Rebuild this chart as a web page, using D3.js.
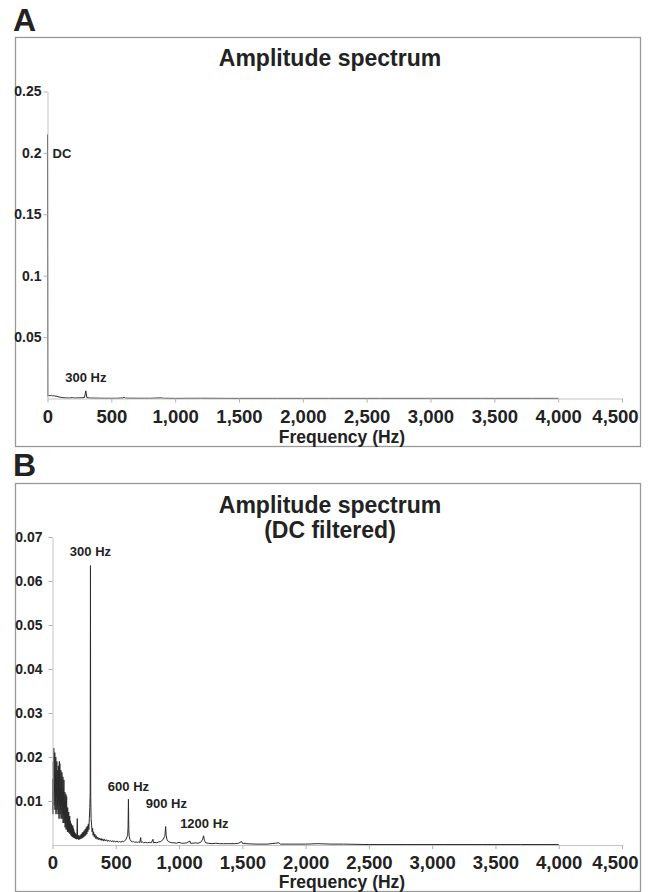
<!DOCTYPE html>
<html>
<head>
<meta charset="utf-8">
<script src="https://cdn.jsdelivr.net/npm/d3@7"></script>
<style>
  body { margin: 0; background: #fff; }
  text { font-family: "Liberation Sans", Arial, sans-serif; font-weight: bold; fill: #222; }
</style>
</head>
<body>
<div id="chart"></div>
<script>
// tick values / labels
let freqTicks = [0, 500, 1000, 1500, 2000, 2500, 3000, 3500, 4000, 4500];
let ampTicksA = [0.05, 0.1, 0.15, 0.2, 0.25];
let ampTicksB = [0.01, 0.02, 0.03, 0.04, 0.05, 0.06, 0.07];
let ampLabelsB = ["0.01", "0.02", "0.03", "0.04", "0.05", "0.06", "0.07"];

// Panel A: raw amplitude spectrum [Hz, amplitude]
let spectrumA = [
	[0, 0.215], [3, 0.0018], [8, 0.0024], [14, 0.0021], [20, 0.0028], [26, 0.0022], [32, 0.0026],
	[38, 0.0021], [44, 0.0025], [50, 0.002], [58, 0.0022], [66, 0.0017], [74, 0.0019], [82, 0.0014],
	[90, 0.0013], [100, 0.001], [115, 0.0008], [130, 0.0006], [150, 0.0005], [175, 0.0004],
	[196, 0.0008], [210, 0.0004], [240, 0.0005], [270, 0.0006], [290, 0.0009], [300, 0.0062],
	[308, 0.0008], [330, 0.0004], [380, 0.0003], [450, 0.0002], [540, 0.0002], [590, 0.0004],
	[600, 0.0012], [610, 0.0003], [700, 0.0002], [800, 0.0002], [894, 0.0005], [910, 0.0002],
	[1000, 0.0001], [1200, 0.0002], [1400, 0.0001], [1800, 0.0001], [2200, 0.0001],
	[2600, 0.0001], [3000, 0.0001], [3400, 0.0001], [3800, 0.0001], [4000, 0.0001]
];

// Panel B: DC filtered spectrum [Hz, amplitude]
let spectrumB = [
	[0, 0.008], [2, 0.015], [4, 0.007], [6, 0.019], [8, 0.011], [10, 0.022], [12, 0.009],
	[14, 0.017], [16, 0.012], [18, 0.021], [20, 0.008], [22, 0.016], [24, 0.010], [26, 0.020],
	[28, 0.007], [30, 0.015], [32, 0.011], [34, 0.019], [36, 0.008], [38, 0.017], [40, 0.009],
	[42, 0.014], [44, 0.007], [46, 0.018], [48, 0.010], [50, 0.016], [52, 0.006], [54, 0.019],
	[56, 0.009], [58, 0.0185], [60, 0.007], [62, 0.013], [64, 0.008], [66, 0.017], [68, 0.006],
	[70, 0.015], [72, 0.009], [74, 0.0165], [76, 0.006], [78, 0.012], [80, 0.007], [82, 0.0155],
	[84, 0.005], [86, 0.013], [88, 0.007], [90, 0.0148], [92, 0.005], [94, 0.011], [96, 0.006],
	[98, 0.012], [100, 0.004], [102, 0.010], [104, 0.005], [106, 0.0115], [108, 0.0035],
	[110, 0.009], [112, 0.011], [114, 0.004], [116, 0.008], [118, 0.003], [120, 0.0085],
	[122, 0.004], [124, 0.007], [126, 0.003], [128, 0.0075], [130, 0.0028], [132, 0.006],
	[134, 0.0035], [136, 0.0066], [138, 0.0025], [140, 0.0055], [142, 0.003], [144, 0.005],
	[146, 0.0022], [148, 0.0048], [150, 0.002], [152, 0.0045], [154, 0.0025], [156, 0.0042],
	[158, 0.0018], [160, 0.0044], [162, 0.002], [164, 0.0038], [166, 0.0017], [168, 0.0035],
	[170, 0.0018], [172, 0.003], [174, 0.0016], [176, 0.0028], [178, 0.0015], [180, 0.0026],
	[184, 0.0014], [188, 0.0024], [192, 0.0013], [196, 0.006], [199, 0.0014], [203, 0.0022],
	[207, 0.0012], [211, 0.0021], [215, 0.0013], [219, 0.0022], [223, 0.0014], [227, 0.0025],
	[231, 0.0015], [235, 0.0028], [239, 0.0016], [243, 0.003], [247, 0.0018], [251, 0.0033],
	[255, 0.002], [259, 0.0036], [263, 0.0022], [267, 0.004], [271, 0.0025], [275, 0.0043],
	[279, 0.003], [283, 0.0048], [287, 0.0035], [291, 0.006], [295, 0.0085], [298, 0.012],
	[300, 0.0635], [302, 0.011], [305, 0.006], [309, 0.0045], [313, 0.003], [317, 0.0038],
	[321, 0.0022], [325, 0.003], [330, 0.0018], [335, 0.0025], [340, 0.0015], [346, 0.0021],
	[352, 0.0013], [358, 0.0018], [364, 0.0012], [370, 0.0016], [377, 0.0011], [384, 0.0015],
	[391, 0.001], [398, 0.0014], [405, 0.0009], [412, 0.0013], [420, 0.0009], [428, 0.0012],
	[436, 0.0008], [444, 0.0011], [452, 0.0008], [460, 0.001], [468, 0.0007], [476, 0.001],
	[484, 0.0007], [492, 0.0009], [500, 0.0007], [510, 0.0009], [520, 0.0006], [530, 0.0009],
	[540, 0.0006], [550, 0.0009], [560, 0.0007], [570, 0.001], [580, 0.0012], [588, 0.0018],
	[594, 0.0022], [597, 0.004], [600, 0.0104], [603, 0.0035], [606, 0.002], [612, 0.0013],
	[620, 0.0009], [630, 0.0007], [640, 0.0008], [650, 0.0006], [660, 0.0007], [670, 0.0006],
	[680, 0.0007], [690, 0.0006], [697, 0.0017], [700, 0.0006], [710, 0.0007], [720, 0.0005],
	[735, 0.0006], [750, 0.0005], [765, 0.0006], [780, 0.0005], [794, 0.0013], [797, 0.0005],
	[810, 0.0006], [825, 0.0005], [840, 0.0007], [855, 0.0008], [870, 0.0011], [880, 0.0016],
	[888, 0.002], [894, 0.0042], [898, 0.0022], [905, 0.0012], [915, 0.0008], [930, 0.0006],
	[945, 0.0005], [960, 0.0005], [980, 0.0004], [1000, 0.0006], [1020, 0.0004], [1040, 0.0004],
	[1060, 0.0005], [1086, 0.0009], [1090, 0.0004], [1110, 0.0004], [1130, 0.0005],
	[1150, 0.0004], [1170, 0.0006], [1185, 0.0012], [1194, 0.0021], [1200, 0.0011],
	[1210, 0.0005], [1230, 0.0004], [1260, 0.0003], [1290, 0.0004], [1320, 0.0003],
	[1350, 0.0003], [1380, 0.0003], [1410, 0.0003], [1440, 0.0003], [1470, 0.0004],
	[1494, 0.0008], [1500, 0.0004], [1530, 0.0003], [1600, 0.0002], [1700, 0.0002],
	[1789, 0.0005], [1800, 0.0002], [1900, 0.0002], [2000, 0.0002], [2100, 0.0003],
	[2200, 0.0002], [2300, 0.0002], [2500, 0.0001], [2800, 0.0001], [3100, 0.0001],
	[3400, 0.0001], [3700, 0.0001], [4000, 0.0001]
];

// peak annotations: text, frequency, amplitude where the label sits
let notesA = [
	{text: "DC", f: 0, a: 0.196, anchor: "start"},
	{text: "300 Hz", f: 300, a: 0.0135, anchor: "middle"}
];
let notesB = [
	{text: "300 Hz", f: 300, a: 0.0657, anchor: "middle"},
	{text: "600 Hz", f: 600, a: 0.0123, anchor: "middle"},
	{text: "900 Hz", f: 900, a: 0.0084, anchor: "middle"},
	{text: "1200 Hz", f: 1200, a: 0.0039, anchor: "middle"}
];

let svg = d3.select("#chart").append("svg")
	.attr("width", 649)
	.attr("height", 892);

drawPanel(svg, {
	letter: "A", letterY: 31,
	box: {x: 15, y: 37, w: 625, h: 409},
	titles: ["Amplitude spectrum"], titleY: 66,
	rangeX: [47.5, 622], rangeY: [398.5, 91.5],
	domainY: [0, 0.25], ampTicks: ampTicksA, ampFormat: d => String(d),
	yPad: 2, xLabelY: 443,
	data: spectrumA, notes: notesA
});

drawPanel(svg, {
	letter: "B", letterY: 476,
	box: {x: 15, y: 483, w: 625, h: 408},
	titles: ["Amplitude spectrum", "(DC filtered)"], titleY: 513,
	rangeX: [52.5, 622], rangeY: [845, 537],
	domainY: [0, 0.07], ampTicks: ampTicksB, ampFormat: (d, i) => ampLabelsB[i],
	yPad: 6, xLabelY: 888,
	data: spectrumB, notes: notesB
});

function drawPanel(svg, p) {
	svg.append("text")
		.attr("x", 13)
		.attr("y", p.letterY)
		.style("font-size", "32px")
		.text(p.letter);

	svg.append("rect")
		.attr("x", p.box.x + 0.5)
		.attr("y", p.box.y + 0.5)
		.attr("width", p.box.w)
		.attr("height", p.box.h)
		.attr("fill", "none")
		.attr("stroke", "#999")
		.attr("stroke-width", 1.3);

	p.titles.forEach(function(t, i) {
		svg.append("text")
			.attr("x", 330)
			.attr("y", p.titleY + i * 25)
			.attr("text-anchor", "middle")
			.style("font-size", "23px")
			.text(t);
	});

	let x = d3.scaleLinear().domain([0, 4500]).range(p.rangeX);
	let y = d3.scaleLinear().domain(p.domainY).range(p.rangeY);

	// spectrum line
	let line = d3.line()
		.x(function(d) { return x(d[0]); })
		.y(function(d) { return y(d[1]); });

	svg.append("path")
		.datum(p.data)
		.attr("d", line)
		.attr("fill", "none")
		.attr("stroke", "#2a2a2a")
		.attr("stroke-width", 1);

	// axes on top so the DC spike sits under the y axis line
	let xAxis = svg.append("g")
		.attr("transform", "translate(0," + p.rangeY[0] + ")")
		.call(d3.axisBottom(x).tickValues(freqTicks).tickFormat(d3.format(","))
			.tickSize(4).tickSizeOuter(0).tickPadding(7));
	xAxis.selectAll("text").style("font-size", "18.5px").attr("fill", "#222");
	// last label pulled back inside the frame
	xAxis.selectAll(".tick").filter(d => d == 4500).select("text").attr("dx", -7);

	let yAxis = svg.append("g")
		.attr("transform", "translate(" + p.rangeX[0] + ",0)")
		.call(d3.axisLeft(y).tickValues(p.ampTicks).tickFormat(p.ampFormat)
			.tickSize(4).tickSizeOuter(0).tickPadding(p.yPad));
	yAxis.selectAll("text").style("font-size", "14px").attr("fill", "#222");

	[xAxis, yAxis].forEach(function(a) {
		a.select(".domain").attr("stroke", "#c4c4c4");
		a.selectAll(".tick line").attr("stroke", "#b0b0b0");
	});

	svg.append("text")
		.attr("x", 342)
		.attr("y", p.xLabelY)
		.attr("text-anchor", "middle")
		.style("font-size", "17.5px")
		.text("Frequency (Hz)");

	svg.selectAll(null)
		.data(p.notes)
		.enter()
			.append("text")
			.attr("x", function(d) { return d.anchor == "start" ? x(d.f) + 5 : x(d.f); })
			.attr("y", function(d) { return y(d.a); })
			.attr("text-anchor", function(d) { return d.anchor; })
			.style("font-size", "13px")
			.text(function(d) { return d.text; });
}
</script>
</body>
</html>
